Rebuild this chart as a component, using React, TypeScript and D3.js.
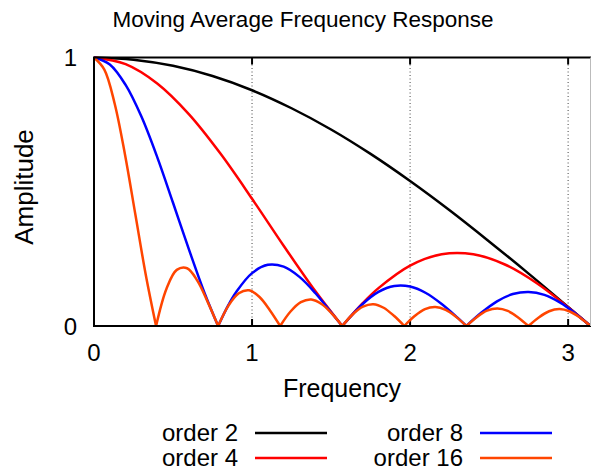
import { useEffect, useRef } from 'react';
import * as d3 from 'd3';

// Frequency samples (rad) and amplitude values
const freq2 = [0, 0.25, 0.5, 0.75, 1.0, 1.25, 1.5, 1.75, 2.0, 2.25, 2.5, 2.75, 3.0, 3.1416];
const amp2 = [1, 0.992, 0.969, 0.931, 0.878, 0.811, 0.732, 0.641, 0.540, 0.431, 0.315, 0.195, 0.071, 0];

const freq4 = [0, 0.2, 0.4, 0.6, 0.8, 1.0, 1.2, 1.4, 1.5708, 1.7, 1.8, 2.0, 2.2, 2.4, 2.6, 2.8, 3.0, 3.1416];
const amp4 = [1, 0.975, 0.903, 0.789, 0.642, 0.474, 0.299, 0.130, 0, 0.085, 0.141, 0.225, 0.267, 0.267, 0.229, 0.160, 0.070, 0];

const freq8 = [
  0, 0.1, 0.2, 0.3, 0.4, 0.5, 0.6, 0.7, 0.7854,
  0.85, 0.9, 1.0, 1.1, 1.2, 1.3, 1.4, 1.5, 1.5708,
  1.7, 1.8, 1.9, 2.0, 2.1, 2.2, 2.3, 2.3562,
  2.45, 2.55, 2.65, 2.75, 2.85, 2.95, 3.05, 3.1416,
];
const amp8 = [
  1, 0.974, 0.898, 0.780, 0.629, 0.459, 0.286, 0.122, 0,
  0.078, 0.127, 0.197, 0.228, 0.221, 0.183, 0.123, 0.051, 0,
  0.082, 0.127, 0.149, 0.147, 0.123, 0.082, 0.031, 0,
  0.049, 0.092, 0.119, 0.127, 0.116, 0.087, 0.045, 0,
];

const freq16 = [
  0, 0.0654, 0.1309, 0.1963, 0.2618, 0.3272, 0.3927,
  0.4581, 0.5236, 0.5890, 0.6545, 0.7199, 0.7854,
  0.8508, 0.9163, 0.9817, 1.0472, 1.1126, 1.1781,
  1.2435, 1.3090, 1.3744, 1.4399, 1.5053, 1.5708,
  1.6362, 1.7017, 1.7671, 1.8326, 1.8980, 1.9635,
  2.0289, 2.0944, 2.1598, 2.2253, 2.2907, 2.3562,
  2.4216, 2.4871, 2.5525, 2.6180, 2.6834, 2.7489,
  2.8143, 2.8798, 2.9452, 3.0107, 3.0761, 3.1416,
];
const amp16 = [
  1, 0.955, 0.828, 0.638, 0.415, 0.192, 0,
  0.138, 0.209, 0.215, 0.168, 0.089, 0,
  0.076, 0.122, 0.133, 0.108, 0.059, 0,
  0.054, 0.089, 0.099, 0.082, 0.046, 0,
  0.043, 0.072, 0.081, 0.068, 0.038, 0,
  0.037, 0.063, 0.071, 0.060, 0.034, 0,
  0.033, 0.057, 0.065, 0.056, 0.032, 0,
  0.032, 0.055, 0.063, 0.054, 0.031, 0,
];

const seriesNames = ['order 2', 'order 4', 'order 8', 'order 16'];
const seriesColors = ['#000000', '#ff0000', '#0000ff', '#ff4500'];
const seriesFreq = [freq2, freq4, freq8, freq16];
const seriesAmp = [amp2, amp4, amp8, amp16];

const xTicks = [0, 1, 2, 3];
const yTicks = [0, 1];

const FONT = '"Liberation Sans", Arial, Helvetica, sans-serif';

// split a series into lobes at its zeros so every null stays a sharp cusp
function lobes(fx: number[], fy: number[]) {
  const out: [number, number][][] = [];
  let cur: [number, number][] = [];
  fx.forEach((f, i) => {
    cur.push([f, fy[i]]);
    if (fy[i] === 0 && i > 0) {
      out.push(cur);
      cur = [[f, fy[i]]];
    }
  });
  if (cur.length > 1) out.push(cur);
  return out;
}

export default function App() {
  const svgRef = useRef<SVGSVGElement>(null);

  useEffect(() => {
    document.body.style.margin = '0';

    const left = 94;
    const right = 590.5;
    const top = 57.5;
    const bottom = 326;

    const svg = d3.select(svgRef.current);
    svg.selectAll('*').remove();
    svg.attr('font-family', FONT);

    const x = d3.scaleLinear().domain([0, Math.PI]).range([left, right]);
    const y = d3.scaleLinear().domain([0, 1]).range([bottom, top]);

    // Title
    svg.append('text')
      .attr('x', 303)
      .attr('y', 27)
      .attr('text-anchor', 'middle')
      .attr('font-size', '22.5px')
      .attr('fill', '#000')
      .text('Moving Average Frequency Response');

    // Dotted grid
    xTicks.filter(t => t > 0).forEach(t => {
      svg.append('line')
        .attr('x1', x(t)).attr('x2', x(t))
        .attr('y1', top + 7).attr('y2', bottom - 7)
        .attr('stroke', '#444')
        .attr('stroke-width', 1)
        .attr('stroke-dasharray', '1,2.5');
    });

    // Tick marks
    xTicks.forEach(t => {
      svg.append('line')
        .attr('x1', x(t)).attr('x2', x(t))
        .attr('y1', top).attr('y2', top + 7)
        .attr('stroke', '#000').attr('stroke-width', 2);
      svg.append('line')
        .attr('x1', x(t)).attr('x2', x(t))
        .attr('y1', bottom).attr('y2', bottom - 7)
        .attr('stroke', '#000').attr('stroke-width', 2);
    });

    // Tick labels
    xTicks.forEach(t => {
      svg.append('text')
        .attr('x', x(t))
        .attr('y', 361)
        .attr('text-anchor', 'middle')
        .attr('font-size', '24px')
        .text(d3.format('d')(t));
    });
    yTicks.forEach(t => {
      svg.append('text')
        .attr('x', 77)
        .attr('y', y(t))
        .attr('dy', '0.36em')
        .attr('text-anchor', 'end')
        .attr('font-size', '24px')
        .text(d3.format('d')(t));
    });

    // Axis labels
    svg.append('text')
      .attr('x', 342)
      .attr('y', 397)
      .attr('text-anchor', 'middle')
      .attr('font-size', '25px')
      .text('Frequency');

    svg.append('text')
      .attr('transform', `translate(33,187) rotate(-90)`)
      .attr('text-anchor', 'middle')
      .attr('font-size', '26px')
      .text('Amplitude');

    // Curves
    const line = d3.line<[number, number]>()
      .x(d => x(d[0]))
      .y(d => y(d[1]))
      .curve(d3.curveCatmullRom.alpha(0.5));

    seriesFreq.forEach((fx, i) => {
      lobes(fx, seriesAmp[i]).forEach(seg => {
        svg.append('path')
          .datum(seg)
          .attr('fill', 'none')
          .attr('stroke', seriesColors[i])
          .attr('stroke-width', 2.5)
          .attr('stroke-linejoin', 'round')
          .attr('d', line);
      });
    });

    // Frame
    svg.append('path')
      .attr('d', `M${right + 1},${top}H${left}V${bottom}H${right + 1}`)
      .attr('fill', 'none')
      .attr('stroke', '#000')
      .attr('stroke-width', 2);
    svg.append('line')
      .attr('x1', 590.5).attr('x2', 590.5)
      .attr('y1', top).attr('y2', bottom)
      .attr('stroke', '#bbb')
      .attr('stroke-width', 1);

    // Legend
    const legendCols = [
      { textX: 238, lineX: 255 },
      { textX: 463, lineX: 480 },
    ];
    seriesNames.forEach((name, i) => {
      const col = legendCols[Math.floor(i / 2)];
      const rowY = 441 + (i % 2) * 25;
      svg.append('text')
        .attr('x', col.textX)
        .attr('y', rowY)
        .attr('text-anchor', 'end')
        .attr('font-size', '24px')
        .text(name);
      svg.append('line')
        .attr('x1', col.lineX).attr('x2', col.lineX + 72)
        .attr('y1', rowY - 8).attr('y2', rowY - 8)
        .attr('stroke', seriesColors[i])
        .attr('stroke-width', 2.5);
    });
  }, []);

  return <svg ref={svgRef} width="591" height="471" style={{ display: 'block' }}></svg>;
}
